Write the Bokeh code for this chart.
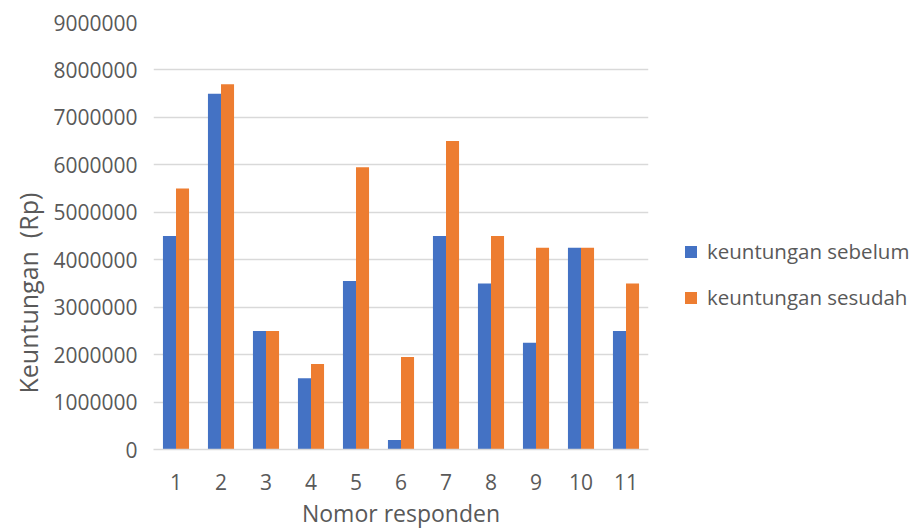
from bokeh.plotting import figure
from bokeh.models import (ColumnDataSource, FactorRange, Range1d, FixedTicker,
                          NumeralTickFormatter, Legend, LegendItem, Title)
from bokeh.transform import dodge
from bokeh.embed import file_html
from bokeh.resources import INLINE

responden = ["1", "2", "3", "4", "5", "6", "7", "8", "9", "10", "11"]
sebelum = [4500000, 7500000, 2500000, 1500000, 3550000, 200000, 4500000, 3500000, 2250000, 4250000, 2500000]
sesudah = [5500000, 7700000, 2500000, 1800000, 5950000, 1950000, 6500000, 4500000, 4250000, 4250000, 3500000]
y_ticks = [0, 1000000, 2000000, 3000000, 4000000, 5000000, 6000000, 7000000, 8000000, 9000000]
series_names = ["keuntungan sebelum", "keuntungan sesudah"]

BLUE = "#4472C4"
ORANGE = "#ED7D31"
TEXT = "#595959"
GRID = "#D9D9D9"
FONT = "Open Sans"

src = ColumnDataSource(dict(x=responden, a=sebelum, b=sesudah))

p = figure(x_range=FactorRange(*responden, range_padding=0),
           y_range=Range1d(0, 9000000),
           frame_width=495, frame_height=427,
           min_border_left=153, min_border_right=264,
           min_border_top=22, min_border_bottom=80,
           output_backend="svg", toolbar_location=None)

r1 = p.vbar(x=dodge("x", -0.145, range=p.x_range), top="a", width=0.29,
            source=src, fill_color=BLUE, line_color=None)
r2 = p.vbar(x=dodge("x", 0.145, range=p.x_range), top="b", width=0.29,
            source=src, fill_color=ORANGE, line_color=None)

p.outline_line_color = None
p.xgrid.grid_line_color = None
p.ygrid.grid_line_color = GRID
p.ygrid.grid_line_width = 1.3
p.yaxis.ticker = FixedTicker(ticks=y_ticks)
p.yaxis.formatter = NumeralTickFormatter(format="0")
p.yaxis.axis_line_color = None
p.yaxis.major_tick_line_color = None
p.yaxis.minor_tick_line_color = None
p.yaxis.major_label_standoff = 10
p.yaxis.major_label_text_font = FONT
p.yaxis.major_label_text_font_size = "21px"
p.yaxis.major_label_text_color = TEXT

p.xaxis.axis_line_color = GRID
p.xaxis.axis_line_width = 1.3
p.xaxis.major_tick_line_color = None
p.xaxis.minor_tick_line_color = None
p.xaxis.major_label_standoff = 18
p.xaxis.major_label_text_font = FONT
p.xaxis.major_label_text_font_size = "21px"
p.xaxis.major_label_text_color = TEXT
p.xaxis.axis_label = "Nomor responden"
p.xaxis.axis_label_text_font = FONT
p.xaxis.axis_label_text_font_size = "23px"
p.xaxis.axis_label_text_font_style = "normal"
p.xaxis.axis_label_text_color = TEXT
p.xaxis.axis_label_standoff = 4

ytitle = Title(text="Keuntungan\u00a0\u00a0(Rp)", align="left", offset=56,
               text_font=FONT, text_font_size="25px", text_font_style="normal",
               text_color=TEXT, standoff=12)
p.add_layout(ytitle, "left")

legend = Legend(items=[LegendItem(label=series_names[0], renderers=[r1]),
                       LegendItem(label=series_names[1], renderers=[r2])],
                location=(35, 138), orientation="vertical",
                glyph_width=15, glyph_height=15, label_height=20,
                label_standoff=9, spacing=18, padding=0, margin=0,
                border_line_color=None, background_fill_alpha=0,
                label_text_font=FONT, label_text_font_size="20.5px",
                label_text_color=TEXT)
p.add_layout(legend, "right")

open("out.html", "w").write(file_html(p, INLINE))
